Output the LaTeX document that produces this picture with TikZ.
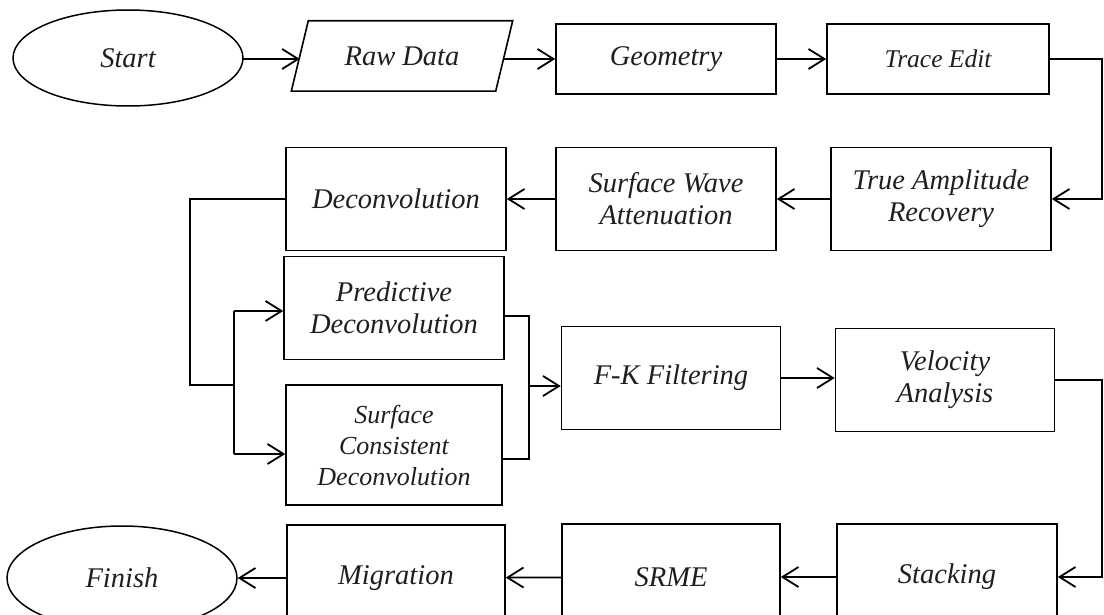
\documentclass[tikz,border=0pt]{standalone}
\usepackage{fontspec}
\setmainfont{Liberation Serif}
\usetikzlibrary{arrows.meta,shapes.geometric,calc}

\begin{document}
\begin{tikzpicture}[x=1pt,y=-1pt,
  txt/.style={font=\fontsize{28.5}{32}\selectfont\itshape, text=black!88},
  box/.style={txt, draw, line width=1.6pt, minimum width=220pt, minimum height=103pt,
              inner sep=0pt, align=center},
  rowone/.style={box, minimum height=70pt},
  oval/.style={txt, draw, ellipse, line width=1.5pt, inner sep=0pt},
  conn/.style={line width=1.8pt, line join=miter},
  arr/.style={conn, -{Straight Barb[length=16pt,width=20pt,line width=1.8pt]}}
]
\useasboundingbox (0,0) rectangle (1104,615);
\clip (0,0) rectangle (1104,615);

% first row
\node[oval, minimum width=230pt, minimum height=96pt] (start) at (128,58) {Start};
\node[txt, minimum width=204pt, minimum height=70pt, inner sep=0pt] (raw) at (402,56) {Raw Data};
\draw[line width=1.6pt] ($(raw.north west)+(8.5,0)$) -- ($(raw.north east)+(8.5,0)$)
  -- ($(raw.south east)+(-8.5,0)$) -- ($(raw.south west)+(-8.5,0)$) -- cycle;
\node[rowone] (geo) at (666,59) {Geometry};
\node[rowone, minimum width=222pt, font=\fontsize{25.5}{30}\selectfont\itshape] (trace) at (938,59) {Trace Edit};

% second row
\node[box] (decon) at (396,199) {Deconvolution};
\node[box] (swa) at (666,199) {Surface Wave\\Attenuation};
\node[box] (tar) at (941,199) {True Amplitude\\Recovery};

% deconvolution branches
\node[box] (pred) at (394,308) {Predictive\\Deconvolution};
\node[box, minimum width=216pt, minimum height=120pt,
      font=\fontsize{26}{31}\selectfont\itshape] (scd) at (394,445) {Surface\\Consistent\\Deconvolution};
\node[box, minimum width=219pt] (fk) at (671,378) {F-K Filtering};
\node[box, minimum width=219pt] (vel) at (945,380) {Velocity\\Analysis};

% last row
\node[oval, minimum width=230pt, minimum height=104pt] (finish) at (122,578) {Finish};
\node[box, minimum width=218pt, minimum height=106pt] (mig) at (396,578) {Migration};
\node[box, minimum width=218pt, minimum height=106pt] (srme) at (671,577) {SRME};
\node[box, minimum width=220pt, minimum height=106pt] (stack) at (947,577) {Stacking};

% routing points
\coordinate (r1) at (1102,59);
\coordinate (r2) at (1102,380);
\coordinate (l1) at (190,199);
\coordinate (l2) at (190,385);
\coordinate (ja) at (234,311);
\coordinate (jb) at (234,454);
\coordinate (jm) at (234,385);
\coordinate (ka) at (529,316);
\coordinate (kb) at (529,459);
\coordinate (km) at (529,386);
\coordinate (s1) at (243,59);

% connectors
\draw[arr] (s1) -- (s1 -| raw.west);
\draw[arr] (raw.east |- geo.west) -- (geo.west);
\draw[arr] (geo) -- (trace);
\draw[arr] (trace.east) -- (r1) |- (tar.east);
\draw[arr] (tar) -- (swa);
\draw[arr] (swa) -- (decon);
\draw[conn] (decon.west) -- (l1) -- (l2) -- (jm);
\draw[conn] (ja) -- (jb);
\draw[arr] (ja) -- (ja -| pred.west);
\draw[arr] (jb) -- (jb -| scd.west);
\draw[conn] (ka -| pred.east) -- (ka) -- (kb) -- (kb -| scd.east);
\draw[arr] (km) -- (km -| fk.west);
\draw[arr] (fk.east) -- (fk.east -| vel.west);
\draw[arr] (vel.east) -- (r2) |- (stack.east);
\draw[arr] (stack) -- (srme);
\draw[arr] (srme) -- (mig);
\draw[arr] (mig) -- (finish);
\end{tikzpicture}
\end{document}
